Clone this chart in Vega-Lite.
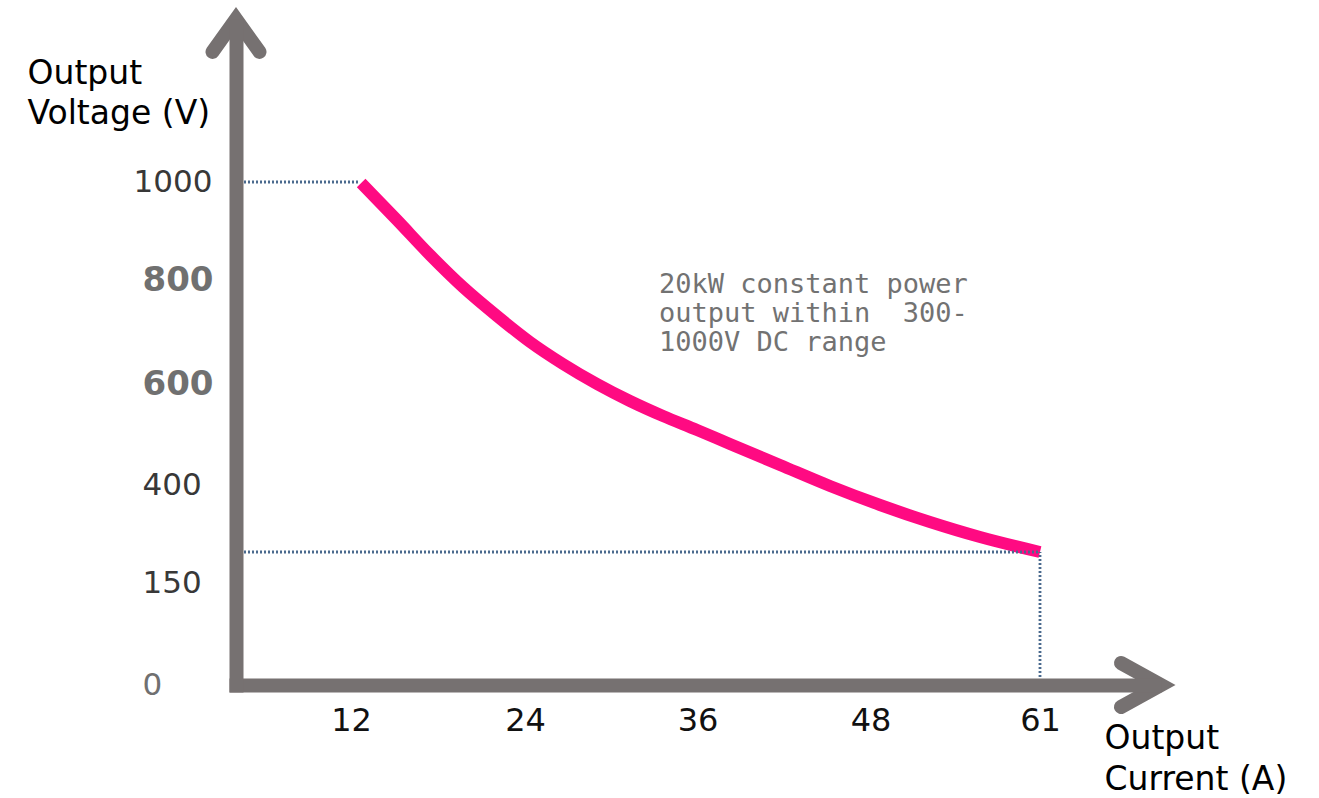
{
  "$schema": "https://vega.github.io/schema/vega-lite/v6.json",
  "width": 1083,
  "height": 685,
  "autosize": {"type": "none"},
  "padding": {"left": 236, "top": 0, "right": 0, "bottom": 113},
  "background": "white",
  "config": {"view": {"stroke": null}},
  "layer": [
    {
      "data": {"values": [
        {"current": 12.7, "voltage": 998},
        {"current": 15.17, "voltage": 922.4},
        {"current": 17.45, "voltage": 851},
        {"current": 19.72, "voltage": 786.5},
        {"current": 22.07, "voltage": 730.8},
        {"current": 24.35, "voltage": 680.8},
        {"current": 26.64, "voltage": 638.5},
        {"current": 29.01, "voltage": 600},
        {"current": 31.3, "voltage": 566.5},
        {"current": 33.6, "voltage": 536.9},
        {"current": 35.97, "voltage": 509.4},
        {"current": 38.25, "voltage": 481.8},
        {"current": 41.72, "voltage": 440.4},
        {"current": 45.19, "voltage": 398.7},
        {"current": 48.73, "voltage": 350},
        {"current": 52.56, "voltage": 306.4},
        {"current": 56.4, "voltage": 267.9},
        {"current": 61, "voltage": 229.5}
      ]},
      "mark": {"type": "line", "color": "#ff0a82", "strokeWidth": 12, "interpolate": "monotone", "strokeCap": "butt"},
      "encoding": {
        "x": {
          "field": "current", "type": "quantitative",
          "scale": {"type": "linear", "domain": [-0.73, 0, 12, 24, 36, 48, 61, 70], "range": [-7, 0, 115, 289, 461.5, 634.5, 804, 925], "nice": false, "zero": false},
          "axis": {
            "values": [12, 24, 36, 48, 61],
            "format": "d",
            "domain": true, "domainColor": "#767171", "domainWidth": 14, "domainCap": "butt",
            "ticks": false, "grid": false,
            "labelFont": "DejaVu Sans", "labelFontSize": 32, "labelColor": "#111111",
            "labelBaseline": "alphabetic", "labelAlign": "center", "labelPadding": 45,
            "labelFlush": false, "labelOverlap": false,
            "title": ["Output", "Current (A)"],
            "titleFont": "DejaVu Sans", "titleFontSize": 33, "titleFontWeight": "normal", "titleColor": "#000000",
            "titleAlign": "left", "titleBaseline": "alphabetic", "titleAngle": 0,
            "titleX": 868, "titleY": 63, "titleLineHeight": 41,
            "zindex": 1
          }
        },
        "y": {
          "field": "voltage", "type": "quantitative",
          "scale": {"type": "linear", "domain": [-10, 0, 150, 400, 600, 800, 1000, 1340], "range": [692, 685, 583, 485.5, 384, 280, 182, 19], "nice": false, "zero": false},
          "axis": {
            "values": [0, 150, 400, 600, 800, 1000],
            "format": "d",
            "domain": true, "domainColor": "#767171", "domainWidth": 14, "domainCap": "butt",
            "ticks": false, "grid": false,
            "labelFont": "DejaVu Sans",
            "labelFontSize": {"condition": {"test": "datum.value == 800 || datum.value == 600", "value": 34}, "value": 31},
            "labelFontWeight": {"condition": {"test": "datum.value == 800 || datum.value == 600", "value": "bold"}, "value": "normal"},
            "labelColor": {"condition": {"test": "datum.value == 800 || datum.value == 600 || datum.value == 0", "value": "#707070"}, "value": "#383838"},
            "labelAlign": "left", "labelBaseline": "middle",
            "labelPadding": {"condition": {"test": "datum.value == 1000", "value": 103}, "value": 94},
            "labelFlush": false, "labelOverlap": false,
            "title": ["Output", "Voltage (V)"],
            "titleFont": "DejaVu Sans", "titleFontSize": 33, "titleFontWeight": "normal", "titleColor": "#000000",
            "titleAlign": "left", "titleBaseline": "alphabetic", "titleAngle": 0,
            "titleX": -209, "titleY": 83, "titleLineHeight": 40,
            "zindex": 1
          }
        }
      }
    },
    {
      "data": {"values": [
        {"current": 0, "voltage": 1000, "current2": 12.6, "voltage2": 1000},
        {"current": 0, "voltage": 229.5, "current2": 61, "voltage2": 229.5},
        {"current": 61, "voltage": 0, "current2": 61, "voltage2": 229.5}
      ]},
      "mark": {"type": "rule", "color": "#4a6a8e", "strokeWidth": 2.8, "strokeDash": [2, 2]},
      "encoding": {
        "x": {"field": "current", "type": "quantitative", "scale": {"type": "linear", "domain": [-0.73, 0, 12, 24, 36, 48, 61, 70], "range": [-7, 0, 115, 289, 461.5, 634.5, 804, 925], "nice": false, "zero": false}},
        "y": {"field": "voltage", "type": "quantitative", "scale": {"type": "linear", "domain": [-10, 0, 150, 400, 600, 800, 1000, 1340], "range": [692, 685, 583, 485.5, 384, 280, 182, 19], "nice": false, "zero": false}},
        "x2": {"field": "current2"},
        "y2": {"field": "voltage2"}
      }
    },
    {
      "data": {"values": [{"current": 0, "voltage": 1340}]},
      "mark": {"type": "point", "shape": "M-1,1.4L0,0L1,1.4", "size": 2209, "filled": false, "opacity": 1, "stroke": "#767171", "strokeWidth": 14, "strokeCap": "round", "strokeJoin": "miter", "strokeMiterLimit": 10},
      "encoding": {
        "x": {"field": "current", "type": "quantitative", "scale": {"type": "linear", "domain": [-0.73, 0, 12, 24, 36, 48, 61, 70], "range": [-7, 0, 115, 289, 461.5, 634.5, 804, 925], "nice": false, "zero": false}},
        "y": {"field": "voltage", "type": "quantitative", "scale": {"type": "linear", "domain": [-10, 0, 150, 400, 600, 800, 1000, 1340], "range": [692, 685, 583, 485.5, 384, 280, 182, 19], "nice": false, "zero": false}}
      }
    },
    {
      "data": {"values": [{"current": 70, "voltage": 0}]},
      "mark": {"type": "point", "shape": "M-1.82,-1L0,0L-1.82,1", "size": 1936, "filled": false, "opacity": 1, "stroke": "#767171", "strokeWidth": 14, "strokeCap": "round", "strokeJoin": "miter", "strokeMiterLimit": 10},
      "encoding": {
        "x": {"field": "current", "type": "quantitative", "scale": {"type": "linear", "domain": [-0.73, 0, 12, 24, 36, 48, 61, 70], "range": [-7, 0, 115, 289, 461.5, 634.5, 804, 925], "nice": false, "zero": false}},
        "y": {"field": "voltage", "type": "quantitative", "scale": {"type": "linear", "domain": [-10, 0, 150, 400, 600, 800, 1000, 1340], "range": [692, 685, 583, 485.5, 384, 280, 182, 19], "nice": false, "zero": false}}
      }
    },
    {
      "data": {"values": [{"current": 33.32, "voltage": 775, "note": "20kW constant power\noutput within \u00a0300-\n1000V DC range"}]},
      "mark": {"type": "text", "align": "left", "baseline": "alphabetic", "font": "DejaVu Sans Mono", "fontSize": 27, "color": "#727272", "lineBreak": "\n", "lineHeight": 29},
      "encoding": {
        "x": {"field": "current", "type": "quantitative", "scale": {"type": "linear", "domain": [-0.73, 0, 12, 24, 36, 48, 61, 70], "range": [-7, 0, 115, 289, 461.5, 634.5, 804, 925], "nice": false, "zero": false}},
        "y": {"field": "voltage", "type": "quantitative", "scale": {"type": "linear", "domain": [-10, 0, 150, 400, 600, 800, 1000, 1340], "range": [692, 685, 583, 485.5, 384, 280, 182, 19], "nice": false, "zero": false}},
        "text": {"field": "note", "type": "nominal"}
      }
    }
  ]
}
